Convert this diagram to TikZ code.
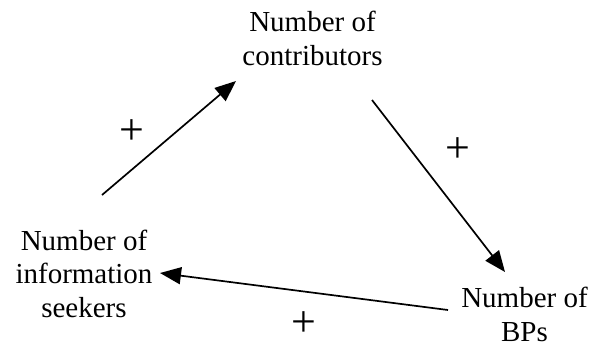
\documentclass[tikz,border=0pt]{standalone}
\usepackage{fontspec}
\setmainfont{Liberation Serif}
\usetikzlibrary{arrows.meta}
\begin{document}
\begin{tikzpicture}[x=1bp,y=-1bp,
  lbl/.style={align=center,inner sep=0pt,anchor=base,font=\fontsize{29bp}{33.5bp}\selectfont},
  sign/.style={inner sep=0pt,font=\fontsize{44bp}{44bp}\selectfont},
  link/.style={line width=1.7bp,-{Triangle[length=21bp,width=17bp]}}]
\useasboundingbox (0,0) rectangle (593,347);
\node[lbl] (contrib) at (312.5,65) {Number of\\contributors};
\node[lbl] (seekers) at (84,317) {Number of\\information\\seekers};
\node[lbl] (bps) at (524.5,341) {Number of\\BPs};
\coordinate (a1s) at (102,195);
\coordinate (a1e) at (236,81);
\coordinate (a2s) at (372,100);
\coordinate (a2e) at (505,272);
\coordinate (a3s) at (448,310);
\coordinate (a3e) at (160,273);
\draw[link] (a1s) -- (a1e);
\draw[link] (a2s) -- (a2e);
\draw[link] (a3s) -- (a3e);
\node[sign] (p1) at (132,132) {+};
\node[sign] (p2) at (458,150) {+};
\node[sign] (p3) at (304,324) {+};
\end{tikzpicture}
\end{document}
